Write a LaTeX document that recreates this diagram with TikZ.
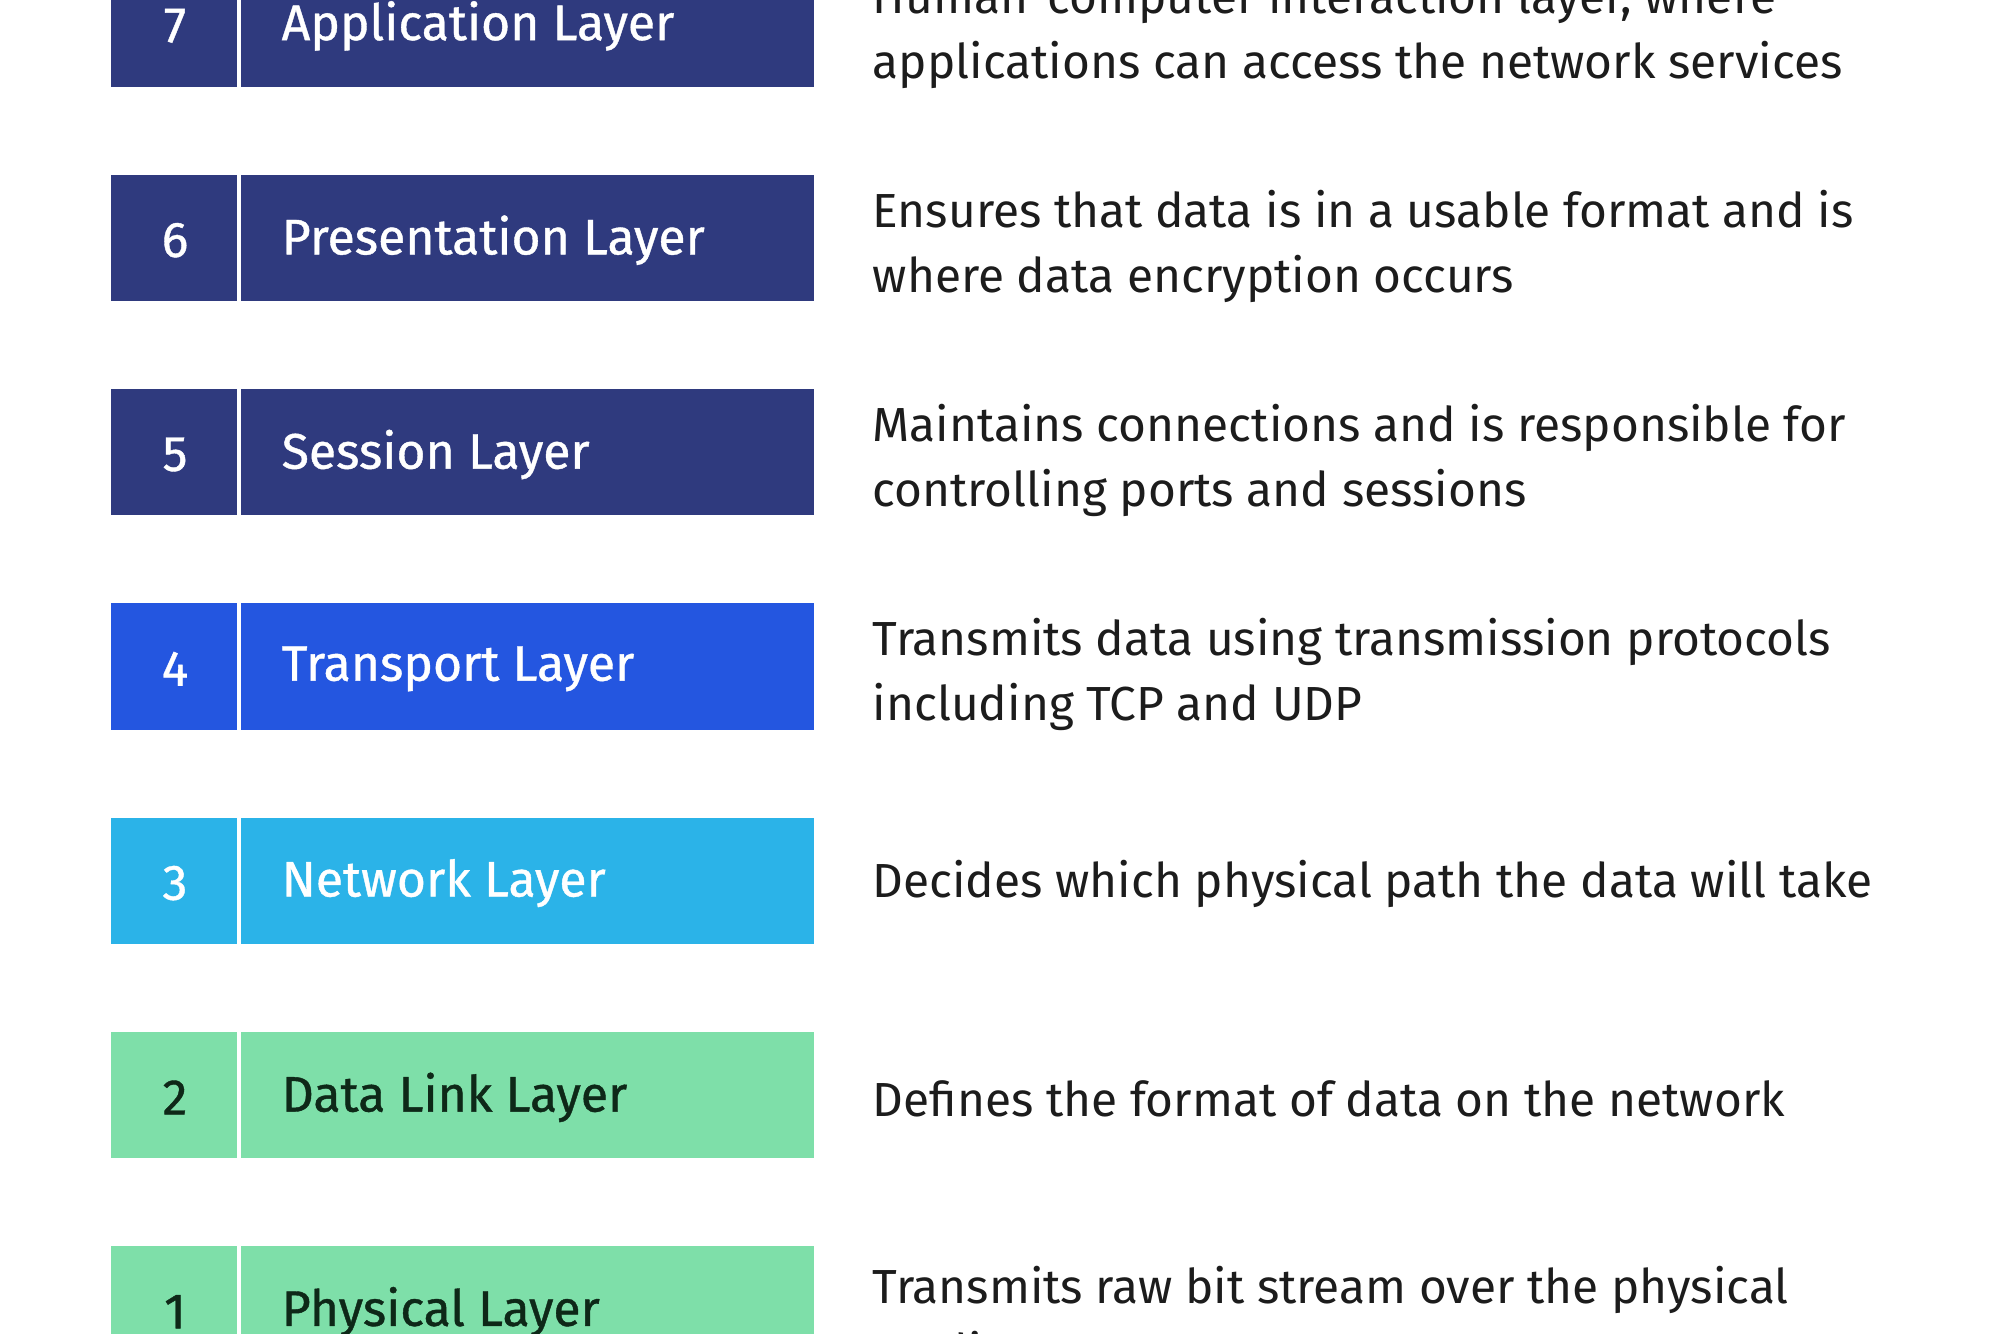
\documentclass[tikz,border=0pt]{standalone}
\usepackage{fontspec}
\setmainfont{Fira Sans}
\newfontfamily\lblfont[FakeBold=0.8]{Fira Sans}
\definecolor{navy}{HTML}{2F3A7E}
\definecolor{tblue}{HTML}{2456E0}
\definecolor{cyan}{HTML}{2BB3E8}
\definecolor{mint}{HTML}{7EDFA9}
\definecolor{darkgreen}{HTML}{0E2818}
\definecolor{desc}{HTML}{1C1C1C}
\begin{document}
\begin{tikzpicture}[x=0.01cm,y=-0.01cm,
  layerbox/.style={fill=#1,draw=none},
  divline/.style={white,line width=1.2pt},
  numtxt/.style={font=\lblfont\fontsize{14.2}{16}\selectfont,anchor=center,inner sep=0pt},
  labtxt/.style={font=\lblfont\fontsize{14.2}{16}\selectfont,anchor=west,inner sep=0pt},
  desctxt/.style={font=\fontsize{13.6}{18.5}\selectfont,anchor=west,align=left,inner sep=0pt,text=desc}]
\useasboundingbox (0,0) rectangle (2000,1333);
\clip (0,0) rectangle (2000,1333);
\fill[white] (0,0) rectangle (2000,1333);
% rows: top = 174.7 + (i-1)*214.3, height 126.3
\foreach \i/\num/\lab/\col/\tc in {0/7/Application Layer/navy/white,1/6/Presentation Layer/navy/white,2/5/Session Layer/navy/white,3/4/Transport Layer/tblue/white,4/3/Network Layer/cyan/white,5/2/Data Link Layer/mint/darkgreen,6/1/Physical Layer/mint/darkgreen}{
  \pgfmathsetmacro{\top}{174.7+(\i-1)*214.3}
  \pgfmathsetmacro{\bot}{\top+126.3}
  \pgfmathsetmacro{\mid}{\top+65.5}
  \fill[layerbox=\col] (111,\top) rectangle (814,\bot);
  \draw[divline] (239,\top) -- (239,\bot);
  \node[numtxt,text=\tc] (n\num) at (175,\mid) {\num};
  \node[labtxt,text=\tc] (l\num) at (281,\mid) {\lab};
}
\node[desctxt] (d7) at (872,32) {Human-computer interaction layer, where\\applications can access the network services};
\node[desctxt] (d6) at (872,246) {Ensures that data is in a usable format and is\\where data encryption occurs};
\node[desctxt] (d5) at (872,460) {Maintains connections and is responsible for\\controlling ports and sessions};
\node[desctxt] (d4) at (872,674) {Transmits data using transmission protocols\\including TCP and UDP};
\node[desctxt] (d3) at (872,884) {Decides which physical path the data will take};
\node[desctxt] (d2) at (872,1099) {Defines the format of data on the network};
\node[desctxt] (d1) at (872,1318) {Transmits raw bit stream over the physical\\medium};
\end{tikzpicture}
\end{document}
